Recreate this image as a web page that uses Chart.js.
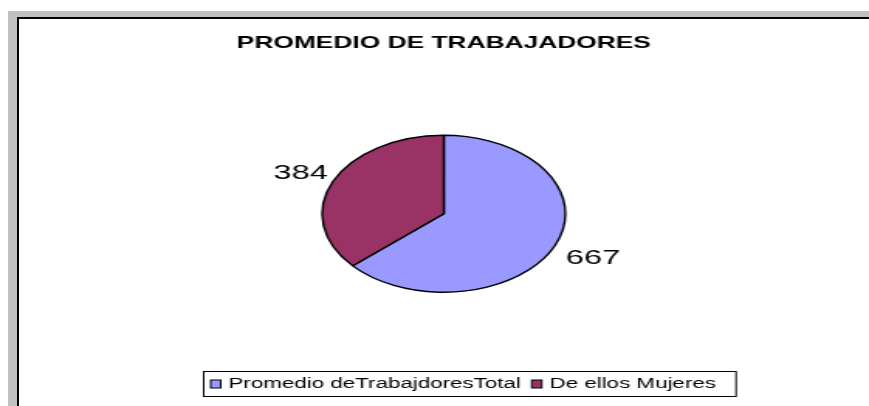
<!DOCTYPE html>
<html>
<head>
<meta charset="utf-8">
<script src="https://cdn.jsdelivr.net/npm/chart.js@4.4.0/dist/chart.umd.min.js"></script>
<style>
    html, body { margin: 0; padding: 0; background: #ffffff; overflow: hidden; }
    #frame { position: absolute; left: 8px; top: 11px; width: 900px; height: 420px; background: #c0c0c0; }
    #sheet { position: absolute; left: 9px; top: 6px; width: 900px; height: 420px; background: #ffffff; border-left: 2px solid #000; border-top: 2px solid #000; }
    #wrap { position: absolute; left: 0; top: 0; width: 561px; height: 406px; transform: scaleX(1.549); transform-origin: 0 0; }
</style>
</head>
<body>
<div id="frame"><div id="sheet"></div></div>
<div id="wrap"><canvas id="workersChart" width="561" height="406"></canvas></div>
<script>
const chartTitle = "PROMEDIO DE TRABAJADORES";
const categories = ["Promedio deTrabajdoresTotal", "De ellos Mujeres"];
const workers = [667, 384];
const sliceColors = ["#9999FF", "#993366"];

const FONT = '"Liberation Sans", Arial, sans-serif';

// numbers outside each slice
const valueLabels = {
    id: 'valueLabels',
    afterDatasetsDraw(chart) {
        const ctx = chart.ctx;
        const meta = chart.getDatasetMeta(0);
        ctx.save();
        ctx.font = '21px ' + FONT;
        ctx.fillStyle = '#000';
        ctx.textAlign = 'center';
        ctx.textBaseline = 'middle';
        meta.data.forEach((arc, i) => {
            const mid = (arc.startAngle + arc.endAngle) / 2;
            const r = arc.outerRadius + 25;
            ctx.fillText(String(chart.data.datasets[0].data[i]), arc.x + Math.cos(mid) * r + 2, arc.y + Math.sin(mid) * r + 2);
        });
        ctx.restore();
    }
};

// boxed legend at the bottom
const legendBox = {
    id: 'legendBox',
    afterDraw(chart) {
        const ctx = chart.ctx;
        const colors = chart.data.datasets[0].backgroundColor;
        const left = 131.5, top = 371, height = 25;
        const sq = 6.5, sqH = 8, gapSq = 5, gapItem = 7, padL = 4.5, padR = 13;
        const squeeze = 0.95;
        ctx.save();
        ctx.font = '15.2px ' + FONT;
        ctx.textBaseline = 'middle';
        const widths = chart.data.labels.map(l => ctx.measureText(l).width * squeeze);
        let total = padL + padR + gapItem * (widths.length - 1);
        widths.forEach(w => { total += sq + gapSq + w; });

        ctx.strokeStyle = '#000';
        ctx.lineWidth = 1;
        ctx.fillStyle = '#fff';
        ctx.fillRect(left, top, total, height);
        ctx.strokeRect(left, top + 0.5, total, height);

        let x = left + padL;
        const cy = top + height / 2 + 0.5;
        chart.data.labels.forEach((label, i) => {
            ctx.fillStyle = colors[i];
            ctx.fillRect(x, cy - sqH / 2, sq, sqH);
            ctx.strokeRect(x, cy - sqH / 2, sq, sqH);
            x += sq + gapSq;
            ctx.fillStyle = '#000';
            ctx.save();
            ctx.translate(x, cy);
            ctx.scale(squeeze, 1);
            ctx.fillText(label, 0, 0);
            ctx.restore();
            x += widths[i] + gapItem;
        });
        ctx.restore();
    }
};

const workersChart = new Chart(document.getElementById('workersChart'), {
    type: 'pie',
    data: {
        labels: categories,
        datasets: [{
            data: workers,
            backgroundColor: sliceColors,
            borderColor: '#000',
            borderWidth: 1.4
        }]
    },
    options: {
        responsive: false,
        animation: false,
        events: [],
        layout: {
            padding: { top: 0, bottom: 113, left: 12, right: 0 }
        },
        plugins: {
            legend: { display: false },
            tooltip: { enabled: false },
            title: {
                display: true,
                text: chartTitle,
                color: '#000',
                font: { family: FONT, size: 17, weight: 'bold' },
                padding: { top: 33, bottom: 81.2 }
            }
        }
    },
    plugins: [valueLabels, legendBox]
});
</script>
</body>
</html>
